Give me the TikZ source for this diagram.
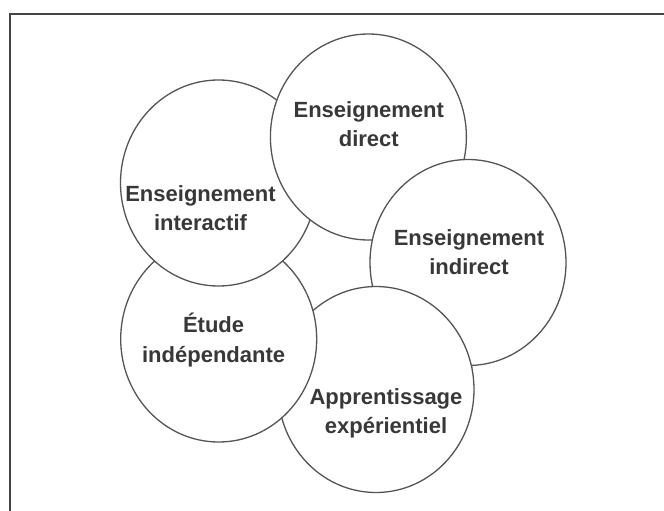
\documentclass[tikz,border=0pt]{standalone}
\usepackage{fontspec}
\setmainfont{Liberation Sans}
\usetikzlibrary{shapes.geometric}
\definecolor{linegray}{HTML}{555555}
\definecolor{textgray}{HTML}{383838}
\definecolor{framegray}{HTML}{444444}
\tikzset{
  bubble/.style={ellipse, draw=linegray, line width=1.3pt, fill=white,
    minimum width=196pt, minimum height=206pt, inner sep=0pt},
  lbl/.style={anchor=base, inner sep=0pt, text=textgray,
    font=\fontsize{22}{26}\selectfont\bfseries},
  frameline/.style={draw=framegray, line width=1.6pt}
}
\begin{document}
\begin{tikzpicture}[x=1pt, y=-1pt]
\useasboundingbox (0,0) rectangle (664,511);
\fill[white] (0,0) rectangle (664,511);
\draw[frameline] (664,14) -- (10,14) -- (10,511);
% circles, painted in order
\node[bubble] (appr) at (376,389.5) {};
\node[bubble] (etude) at (218.7,339) {};
\node[bubble] (inter) at (218.5,183) {};
\node[bubble] (direct) at (368.4,137) {};
\node[bubble] (indir) at (468,262.5) {};
% apprentissage lies over indirect
\begin{scope}
  \clip (indir.center) ellipse [x radius=101pt, y radius=106pt];
  \node[bubble] (appr2) at (appr.center) {};
\end{scope}
% labels
\node[lbl] (t-direct1) at (368.8,117.3) {Enseignement};
\node[lbl] (t-direct2) at (368.8,146.7) {direct};
\node[lbl] (t-inter1) at (200.5,201.7) {Enseignement};
\node[lbl] (t-inter2) at (200.5,230.7) {interactif};
\node[lbl] (t-indir1) at (469,245) {Enseignement};
\node[lbl] (t-indir2) at (469,274.3) {indirect};
\node[lbl] (t-etude1) at (213.6,332.3) {Étude};
\node[lbl] (t-etude2) at (213.6,362.7) {indépendante};
\node[lbl] (t-appr1) at (386,404) {Apprentissage};
\node[lbl] (t-appr2) at (386,433.3) {expérientiel};
\end{tikzpicture}
\end{document}
